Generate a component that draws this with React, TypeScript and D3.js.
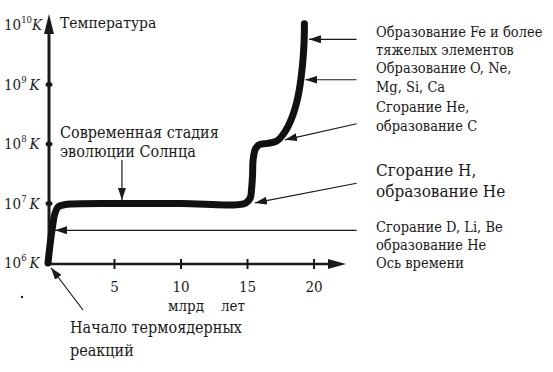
import * as d3 from 'd3';

// curve of the Sun's core temperature: time (bn years) vs log10 T
const times = [0, 0.15, 0.3, 0.53, 0.75, 1.05, 1.65, 5, 10, 14.8, 15.2, 15.3, 15.38, 15.42, 15.6, 15.9, 16.5, 17.2, 17.8, 18.35, 18.8, 19.1, 19.25, 19.28];
const logTemps = [6.0, 6.3, 6.55, 6.84, 6.94, 6.97, 6.99, 7.0, 7.0, 7.0, 7.09, 7.23, 7.48, 7.73, 7.92, 7.99, 8.01, 8.05, 8.2, 8.45, 8.8, 9.25, 9.7, 10.02];

const xTicks = [5, 10, 15, 20];
const yTickExps = [6, 7, 8, 9, 10];

// annotation arrows: [tailT, tailLog, tipT, tipLog]
const arrows: [number, number, number, number][] = [
  [23.2, 9.76, 19.62, 9.76],
  [23.2, 9.08, 19.35, 9.08],
  [23.2, 8.34, 17.82, 8.07],
  [23.2, 7.34, 15.56, 7.01],
  [23.2, 6.55, 0.53, 6.55],
  [5.56, 7.73, 5.56, 7.06],
  [2.63, 5.21, 0.23, 5.92],
];

const rightLabels = [
  { text: 'Образование Fe и более', y: 37, size: 14.5 },
  { text: 'тяжелых элементов', y: 55, size: 14.5 },
  { text: 'Образование O, Ne,', y: 73, size: 14.5 },
  { text: 'Mg, Si, Ca', y: 92, size: 14.5 },
  { text: 'Сгорание He,', y: 112, size: 14.5 },
  { text: 'образование C', y: 131, size: 14.5 },
  { text: 'Сгорание H,', y: 176, size: 17 },
  { text: 'образование He', y: 197, size: 17 },
  { text: 'Сгорание D, Li, Be', y: 232, size: 14.5 },
  { text: 'образование He', y: 250, size: 14.5 },
  { text: 'Ось времени', y: 268, size: 14.5 },
];

const W = 553;
const H = 372;

export default function App() {
  const x = d3.scaleLinear().domain([0, 20]).range([48, 314]);
  const y = d3.scaleLog().domain([1e6, 1e10]).range([263, 25]);
  const yl = (e: number) => y(Math.pow(10, e));

  const pts = times.map((t, i) => [x(t), yl(logTemps[i])] as [number, number]);
  const line = d3.line().curve(d3.curveCatmullRom.alpha(0.5));

  const ax0 = x(0) + 1;
  const ay0 = y(1e6);
  const font = '"DejaVu Serif Condensed", "DejaVu Serif", serif';
  const ink = '#1a1a1a';

  return (
    <svg width={W} height={H} style={{ position: 'absolute', left: 0, top: 0, background: '#fff', fontFamily: font }}>
      <defs>
        <marker id="ah" viewBox="0 0 12 8" refX="12" refY="4" markerWidth="12" markerHeight="8" markerUnits="userSpaceOnUse" orient="auto">
          <path d="M0,0 L12,4 L0,8 z" fill={ink} />
        </marker>
      </defs>

      {/* y axis */}
      <line x1={ax0} y1={ay0 + 1} x2={ax0} y2={30} stroke={ink} strokeWidth={3} />
      <path d={`M${ax0 - 5},${34} L${ax0},${14} L${ax0 + 5},${34} z`} fill={ink} />
      {[7, 8, 9].map(e => (
        <ellipse key={e} cx={ax0} cy={yl(e)} rx={3.5} ry={2.5} fill={ink} />
      ))}

      {/* x axis */}
      <line x1={ax0} y1={ay0 + 1} x2={332} y2={ay0 + 1} stroke={ink} strokeWidth={2.5} />
      <path d={`M${328},${ay0 - 4} L${346},${ay0 + 1} L${328},${ay0 + 6} z`} fill={ink} />
      {xTicks.map(t => (
        <g key={t}>
          <line x1={x(t)} x2={x(t)} y1={ay0 - 4} y2={ay0 + 6} stroke={ink} strokeWidth={2} />
          <text x={x(t)} y={292} textAnchor="middle" fontSize={15} fill={ink}>{t}</text>
        </g>
      ))}
      <text x={168} y={311} fontSize={15} fill={ink}>млрд</text>
      <text x={221} y={311} fontSize={15} fill={ink}>лет</text>

      {/* y tick labels */}
      {yTickExps.map(e => (
        <text key={e} x={4} y={yl(e) + 5} fontSize={15} fill={ink}>
          10<tspan dy={-7} fontSize={9.5}>{e}</tspan>
          <tspan dy={7} fontStyle="italic" dx={e === 10 ? 0 : 3}>K</tspan>
        </text>
      ))}

      <text x={60} y={28} fontSize={15.5} fill={ink}>Температура</text>

      {/* curve */}
      <path d={line(pts) || ''} fill="none" stroke="#111" strokeWidth={7} strokeLinecap="round" strokeLinejoin="round" />

      {/* arrows */}
      {arrows.map((a, i) => (
        <line key={i} x1={x(a[0])} y1={yl(a[1])} x2={x(a[2])} y2={yl(a[3])} stroke={ink} strokeWidth={1.2} markerEnd="url(#ah)" />
      ))}

      {/* left annotations */}
      <text x={60} y={138} fontSize={16} fill={ink}>Современная стадия</text>
      <text x={60} y={157} fontSize={16} fill={ink}>эволюции Солнца</text>
      <text x={70} y={333} fontSize={16} fill={ink}>Начало термоядерных</text>
      <text x={70} y={356} fontSize={16} fill={ink}>реакций</text>
      <circle cx={22} cy={297} r={1.2} fill={ink} />

      {/* right annotations */}
      {rightLabels.map((l, i) => (
        <text key={i} x={376} y={l.y} fontSize={l.size} fill={ink}>{l.text}</text>
      ))}
    </svg>
  );
}
